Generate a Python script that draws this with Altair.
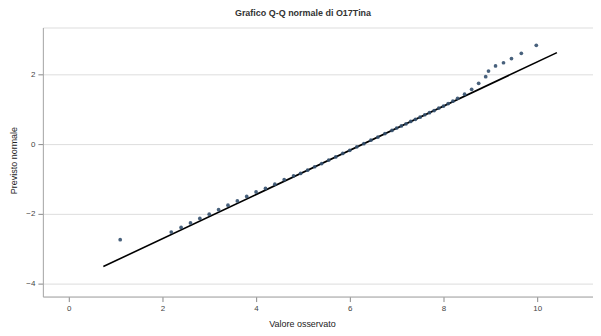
import altair as alt
import pandas as pd

observed = [1.10, 2.19, 2.40, 2.60, 2.80, 3.00, 3.20, 3.40, 3.60, 3.80, 4.00, 4.20, 4.40, 4.60,
            4.80, 4.95, 5.10, 5.25, 5.40, 5.55, 5.70, 5.85, 6.00, 6.15, 6.30, 6.45, 6.60, 6.75,
            6.90, 7.00, 7.10, 7.20, 7.30, 7.40, 7.50, 7.60, 7.70, 7.80, 7.90, 8.00, 8.10, 8.20,
            8.30, 8.45, 8.60, 8.75, 8.90, 8.96, 9.11, 9.28, 9.45, 9.66, 9.98]
expected = [-2.74, -2.52, -2.39, -2.26, -2.13, -2.01, -1.88, -1.75, -1.63, -1.50, -1.37, -1.27, -1.15, -1.02,
            -0.91, -0.84, -0.75, -0.65, -0.56, -0.46, -0.37, -0.27, -0.18, -0.08, 0.01, 0.11, 0.20, 0.30,
            0.39, 0.46, 0.52, 0.58, 0.65, 0.71, 0.77, 0.84, 0.90, 0.96, 1.03, 1.09, 1.16, 1.23,
            1.31, 1.43, 1.57, 1.74, 1.93, 2.09, 2.24, 2.33, 2.45, 2.60, 2.83]

# Reference line end points
line_x = [0.74, 10.42]
line_y = [-3.51, 2.62]

x_ticks = [0, 2, 4, 6, 8, 10]
y_ticks = [-4, -2, 0, 2]

pts = pd.DataFrame({"obs": observed, "exp": expected})
ln = pd.DataFrame({"obs": line_x, "exp": line_y})

xscale = alt.Scale(domain=[-0.55, 11.19], nice=False, zero=False)
yscale = alt.Scale(domain=[-4.37, 3.34], nice=False, zero=False)

xaxis = alt.Axis(title="Valore osservato", values=x_ticks, grid=False, domainColor="#aaaaaa",
                 tickColor="#888888", tickSize=5, labelFontSize=8, labelColor="#444444",
                 titleFontSize=9, titleFontWeight="normal", titleColor="#222222",
                 titleX=260, titleY=27, titleBaseline="middle", labelPadding=3)
yaxis = alt.Axis(title="Previsto normale", values=y_ticks, grid=True, gridColor="#dddddd",
                 domainColor="#aaaaaa", tickColor="#888888", tickSize=5, labelFontSize=8,
                 labelColor="#444444", titleFontSize=9, titleFontWeight="normal",
                 titleColor="#222222", titleX=-29, titleY=133, titleBaseline="middle",
                 titleAngle=270, labelPadding=3)

line = alt.Chart(ln).mark_line(color="black", strokeWidth=1.6).encode(
    x=alt.X("obs:Q", scale=xscale, axis=xaxis),
    y=alt.Y("exp:Q", scale=yscale, axis=yaxis),
)
points = alt.Chart(pts).mark_circle(size=14, color="#34506e", opacity=0.9).encode(
    x=alt.X("obs:Q", scale=xscale),
    y=alt.Y("exp:Q", scale=yscale),
)

chart = alt.layer(line, points).properties(
    width=552, height=270,
    autosize="none",
    padding={"left": 35, "top": 19, "right": 0, "bottom": 40},
    title=alt.TitleParams("Grafico Q-Q normale di O17Tina", fontSize=9, fontWeight="bold",
                          color="#333333", anchor="middle", dx=-15, offset=10),
).configure_view(stroke=None).configure(font="Liberation Sans")

chart.save("out.html", embed_options={"renderer": "svg", "actions": False})
